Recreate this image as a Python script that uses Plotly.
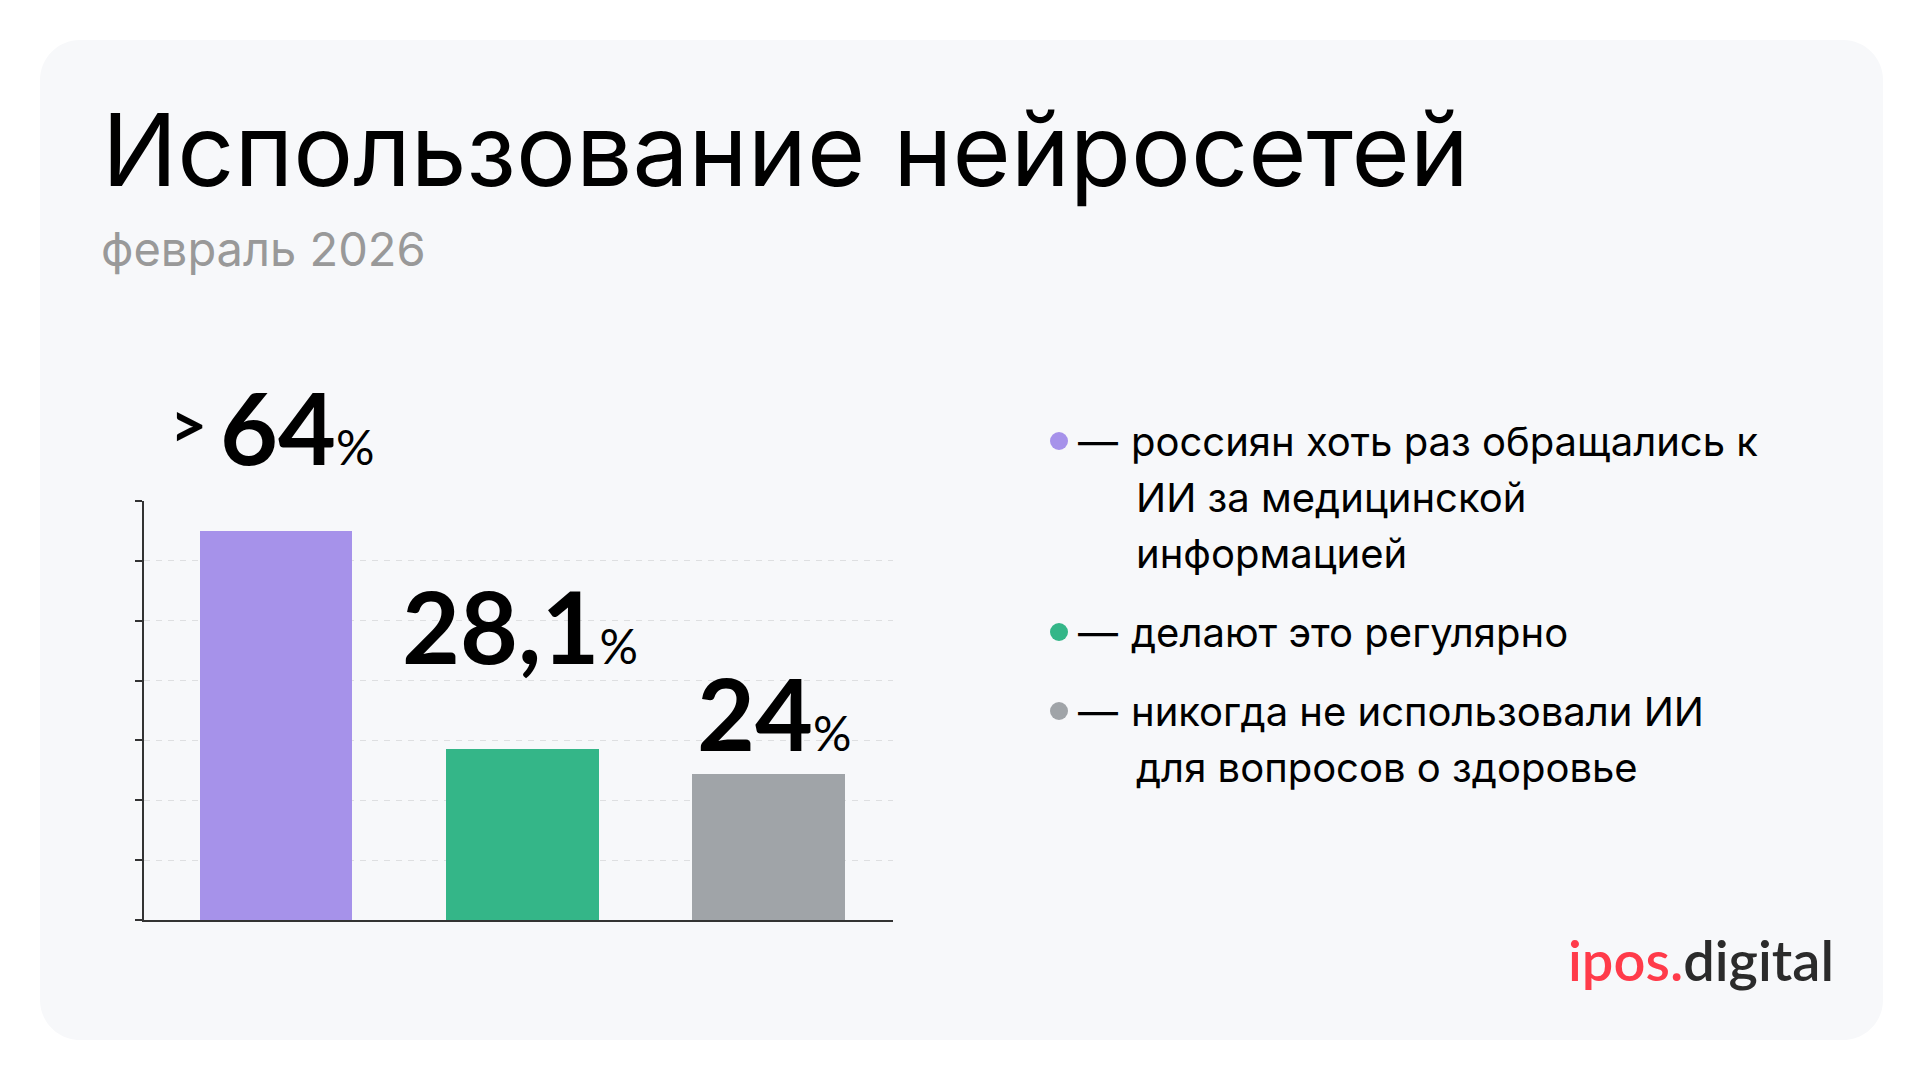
import plotly.graph_objects as go

# ---------------- data ----------------
categories = ["обращались к ИИ", "делают регулярно", "никогда не использовали"]
values = [64, 28.1, 24]
value_text = ["64", "28,1", "24"]
value_prefix = [">", "", ""]
colors = ["#A692EA", "#34B688", "#A0A4A8"]
legend_lines = [
    ["россиян хоть раз обращались к", "ИИ за медицинской", "информацией"],
    ["делают это регулярно"],
    ["никогда не использовали ИИ", "для вопросов о здоровье"],
]
title_text = "Использование нейросетей"
subtitle_text = "февраль 2026"

# ---------------- layout constants ----------------
W, H = 1920, 1080
Y_MAX = 69
N_GRID = 7
CARD = "#F7F8FA"
NUM_FONT = "Lato"
TXT_FONT = "Inter"


def px(x):
    return x / W


def py(y):
    return 1 - y / H


fig = go.Figure()
fig.add_trace(go.Bar(
    x=categories, y=values, marker=dict(color=colors, line=dict(width=0)),
    width=0.621, hoverinfo="skip", showlegend=False,
))

# rounded card
x0, y0, x1, y1, r = 40, 40, 1883, 1040, 40
k = 0.5523 * r
path = (
    f"M {px(x0 + r)},{py(y0)} L {px(x1 - r)},{py(y0)} "
    f"C {px(x1 - r + k)},{py(y0)} {px(x1)},{py(y0 + r - k)} {px(x1)},{py(y0 + r)} "
    f"L {px(x1)},{py(y1 - r)} "
    f"C {px(x1)},{py(y1 - r + k)} {px(x1 - r + k)},{py(y1)} {px(x1 - r)},{py(y1)} "
    f"L {px(x0 + r)},{py(y1)} "
    f"C {px(x0 + r - k)},{py(y1)} {px(x0)},{py(y1 - r + k)} {px(x0)},{py(y1 - r)} "
    f"L {px(x0)},{py(y0 + r)} "
    f"C {px(x0)},{py(y0 + r - k)} {px(x0 + r - k)},{py(y0)} {px(x0 + r)},{py(y0)} Z"
)
shapes = [dict(type="path", path=path, xref="paper", yref="paper",
               fillcolor=CARD, line=dict(width=0), layer="below")]

annotations = []
# title / subtitle
annotations.append(dict(text=title_text, xref="paper", yref="paper",
                        x=px(100), y=py(150), xanchor="left", yanchor="middle",
                        showarrow=False, font=dict(family=TXT_FONT, size=100, color="#000000")))
annotations.append(dict(text=subtitle_text, xref="paper", yref="paper",
                        x=px(99), y=py(248), xanchor="left", yanchor="middle",
                        showarrow=False, font=dict(family=TXT_FONT, size=47, color="#999999")))

# value labels
label_shift = [(21, 105), (-2, 124), (6, 62)]
for i, (cat, v, t) in enumerate(zip(categories, values, value_text)):
    dx, dy = label_shift[i]
    annotations.append(dict(
        text=f"<b>{t}</b><span style='font-size:48px'>%</span>",
        x=cat, y=v, xref="x", yref="y", xanchor="center", yanchor="middle",
        xshift=dx, yshift=dy, showarrow=False,
        font=dict(family=NUM_FONT, size=100, color="#000000")))
    if value_prefix[i]:
        annotations.append(dict(
            text=f"<b>{value_prefix[i]}</b>", x=cat, y=v, xref="x", yref="y",
            xanchor="center", yanchor="middle", xshift=-87, yshift=108,
            showarrow=False, font=dict(family=NUM_FONT, size=64, color="#000000")))

# legend
line_gap, item_gap = 56, 79
yc = 441
for i, lines in enumerate(legend_lines):
    shapes.append(dict(type="circle", xref="paper", yref="paper",
                       xsizemode="pixel", ysizemode="pixel",
                       xanchor=px(1059), yanchor=py(yc),
                       x0=-9, x1=9, y0=-9, y1=9,
                       fillcolor=colors[i], line=dict(width=0)))
    annotations.append(dict(text="—", xref="paper", yref="paper", x=px(1076), y=py(yc),
                            xanchor="left", yanchor="middle", showarrow=False,
                            font=dict(family=TXT_FONT, size=40, color="#000000")))
    for j, ln in enumerate(lines):
        xl = 1129 if j == 0 else 1134
        annotations.append(dict(text=ln, xref="paper", yref="paper", x=px(xl),
                                y=py(yc + j * line_gap), xanchor="left", yanchor="middle",
                                showarrow=False,
                                font=dict(family=TXT_FONT, size=40, color="#000000")))
    yc += (len(lines) - 1) * line_gap + item_gap

# logo
annotations.append(dict(
    text="<span style='color:#FF3B4A'>ipos.</span><span style='color:#2B2B2B'>digital</span>",
    xref="paper", yref="paper", x=px(1836), y=py(959), xanchor="right", yanchor="middle",
    showarrow=False, font=dict(family=NUM_FONT, size=56, color="#2B2B2B", weight=600)))

fig.update_layout(
    width=W, height=H, margin=dict(l=0, r=0, t=0, b=0),
    paper_bgcolor="#FFFFFF", plot_bgcolor="rgba(0,0,0,0)",
    shapes=shapes, annotations=annotations, bargap=0,
    xaxis=dict(domain=[px(144), px(893)], range=[-0.536, 2.506],
               showticklabels=False, ticks="", showgrid=False, zeroline=False,
               showline=True, linecolor="#333333", linewidth=1.5, fixedrange=True),
    yaxis=dict(domain=[py(920), py(501)], range=[0, Y_MAX],
               tickmode="array", tickvals=[Y_MAX * i / N_GRID for i in range(N_GRID + 1)],
               showticklabels=False, ticks="outside", ticklen=7, tickwidth=1.5,
               tickcolor="#333333", showline=True, linecolor="#333333", linewidth=1.5,
               showgrid=True, gridcolor="#DEDFE1", gridwidth=1, griddash="6px,6px",
               zeroline=False, fixedrange=True),
)

fig.write_html("out.html", config={"displayModeBar": False},
               post_script="document.body.style.margin='0';document.body.style.overflow='hidden';")
